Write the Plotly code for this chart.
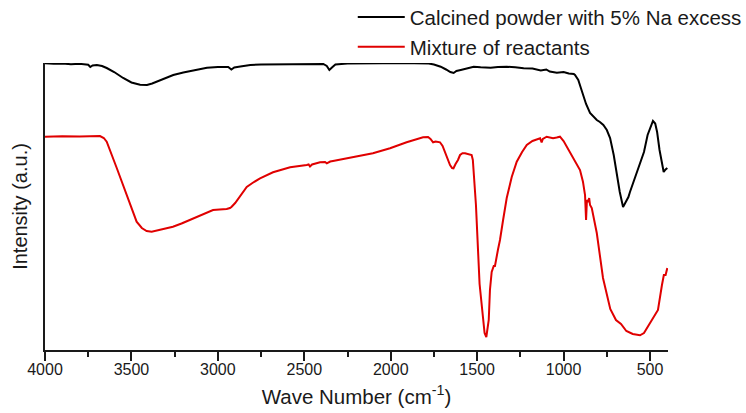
import plotly.graph_objects as go

# FTIR spectra: calcined powder vs. mixture of reactants (transmittance, arbitrary units)

calcined_wn = [4000, 3950, 3900, 3850, 3800, 3770, 3750, 3738, 3725, 3700, 3670, 3643, 3600, 3548,
               3500, 3450, 3430, 3410, 3380, 3353, 3300, 3258, 3200, 3160, 3100, 3063, 3000, 2969,
               2940, 2922, 2905, 2870, 2812, 2750, 2650, 2550, 2450, 2390, 2370, 2355, 2340, 2320,
               2250, 2150, 2050, 1950, 1850, 1780, 1750, 1711, 1680, 1655, 1636, 1620, 1595, 1560,
               1520, 1480, 1422, 1380, 1329, 1280, 1231, 1180, 1132, 1100, 1080, 1039, 1000, 970,
               941, 934, 915, 900, 888, 870, 847, 825, 808, 790, 770, 750, 731, 710, 694, 675, 656,
               640, 625, 616, 600, 580, 553, 535, 514, 497, 483, 470, 459, 445, 432, 421, 410, 400]
calcined_int = [286.7, 286.2, 286.5, 285.8, 286.2, 285.7, 285.2, 283.0, 284.5, 285.0, 284.0, 282.0,
                278.0, 272.0, 267.5, 265.3, 264.8, 265.0, 266.5, 268.5, 272.0, 275.0, 277.5, 279.0,
                281.3, 282.3, 283.0, 283.3, 283.0, 280.5, 282.5, 283.5, 285.0, 285.5, 285.7, 285.8,
                286.0, 286.0, 284.0, 280.0, 282.5, 285.5, 286.5, 287.0, 286.8, 287.0, 286.8, 286.5,
                285.5, 283.3, 280.5, 278.0, 277.0, 279.0, 280.0, 281.5, 283.3, 282.8, 282.3, 283.0,
                283.3, 282.7, 281.7, 281.5, 279.5, 280.5, 278.5, 277.3, 278.0, 276.5, 276.0, 275.0,
                270.0, 262.0, 255.0, 246.0, 237.0, 233.0, 230.0, 228.0, 225.0, 220.0, 212.0, 195.0,
                178.0, 158.0, 143.0, 148.0, 153.0, 158.0, 166.0, 174.0, 188.0, 198.0, 215.0, 224.0,
                229.0, 226.5, 218.0, 200.0, 188.0, 178.0, 180.5, 182.0]

mixture_wn = [4000, 3900, 3800, 3750, 3700, 3682, 3660, 3643, 3585, 3527, 3470, 3440, 3412, 3383,
              3350, 3300, 3260, 3210, 3161, 3100, 3028, 2990, 2949, 2930, 2920, 2900, 2872, 2850,
              2833, 2800, 2756, 2681, 2582, 2486, 2475, 2467, 2455, 2409, 2380, 2370, 2350, 2334,
              2197, 2103, 2004, 1908, 1813, 1784, 1770, 1755, 1740, 1715, 1700, 1686, 1670, 1657,
              1645, 1637, 1625, 1611, 1599, 1585, 1570, 1545, 1532, 1525, 1514, 1507, 1486, 1470,
              1457, 1447, 1433, 1426, 1416, 1404, 1397, 1380, 1368, 1350, 1329, 1300, 1271, 1240,
              1213, 1180, 1136, 1127, 1120, 1098, 1080, 1061, 1040, 1021, 1000, 982, 946, 905, 888,
              876, 870, 865, 857, 852, 847, 837, 808, 772, 730, 697, 668, 637, 600, 569, 558, 535,
              500, 475, 454, 431, 420, 410, 400]
mixture_int = [213.3, 213.8, 213.5, 214.0, 214.0, 214.0, 212.0, 208.3, 182.0, 155.0, 128.3, 122.0,
               119.0, 118.3, 119.5, 121.5, 123.3, 126.5, 130.0, 135.0, 140.0, 140.5, 141.0, 142.0,
               143.3, 147.0, 153.3, 158.0, 163.0, 167.0, 171.7, 177.7, 182.7, 185.0, 185.5, 183.5,
               185.5, 187.7, 188.0, 186.7, 188.5, 189.0, 193.3, 196.7, 201.7, 207.7, 212.7, 213.0,
               211.0, 207.7, 208.5, 207.7, 204.0, 198.3, 190.0, 185.0, 182.0, 181.7, 186.0, 190.0,
               195.0, 196.7, 196.7, 196.0, 195.0, 190.0, 160.0, 145.0, 66.0, 40.0, 17.0, 13.0,
               30.0, 60.0, 78.0, 84.0, 84.0, 100.0, 110.0, 130.0, 152.0, 173.0, 188.3, 198.0, 205.0,
               209.0, 211.7, 207.7, 211.0, 213.3, 212.5, 211.7, 212.5, 213.3, 209.0, 203.3, 191.7,
               180.0, 168.3, 155.0, 130.0, 150.0, 148.0, 152.0, 145.0, 142.0, 117.0, 72.0, 41.0,
               30.0, 26.0, 19.0, 16.0, 15.0, 14.7, 17.0, 27.0, 33.0, 40.0, 65.0, 75.0, 75.0, 82.0]

x_ticks = [4000, 3500, 3000, 2500, 2000, 1500, 1000, 500]

FONT = "Liberation Sans, Arial, sans-serif"

fig = go.Figure()
fig.add_trace(go.Scatter(x=calcined_wn, y=calcined_int, mode="lines",
                         name="Calcined powder with 5% Na excess",
                         line=dict(color="#000000", width=2)))
fig.add_trace(go.Scatter(x=mixture_wn, y=mixture_int, mode="lines",
                         name="Mixture of reactants",
                         line=dict(color="#e00000", width=2)))

fig.update_layout(
    width=746, height=413,
    margin=dict(l=45, r=78, t=63, b=63, autoexpand=False),
    paper_bgcolor="white", plot_bgcolor="white",
    font=dict(family=FONT, color="#1a1a1a"),
    showlegend=True,
    legend=dict(x=0.494, y=1.229, xanchor="left", yanchor="top",
                font=dict(size=20.5, family=FONT, color="#1a1a1a"),
                itemwidth=47, tracegroupgap=0, bgcolor="rgba(0,0,0,0)",
                borderwidth=0),
    xaxis=dict(
        range=[4000, 396], tickvals=x_ticks, ticktext=[str(v) for v in x_ticks],
        ticks="outside", ticklen=9, tickwidth=1.5, tickcolor="#1a1a1a",
        showline=True, linecolor="#1a1a1a", linewidth=2, showgrid=False, zeroline=False,
        tickfont=dict(size=16, family=FONT, color="#1a1a1a"),
        ticklabelstandoff=-5,
        minor=dict(dtick=250, tick0=0, ticks="outside", ticklen=5, tickwidth=1.5,
                   tickcolor="#1a1a1a", showgrid=False),
        title=dict(text="Wave Number (cm<sup>-1</sup>)", standoff=12,
                   font=dict(size=20.5, family=FONT, color="#1a1a1a")),
    ),
    yaxis=dict(
        range=[0, 287], showticklabels=False, ticks="",
        showline=True, linecolor="#1a1a1a", linewidth=2, showgrid=False, zeroline=False,
        title=dict(text="Intensity (a.u.)", standoff=10,
                   font=dict(size=20, family=FONT, color="#1a1a1a")),
    ),
)

fig.write_html("out.html")
